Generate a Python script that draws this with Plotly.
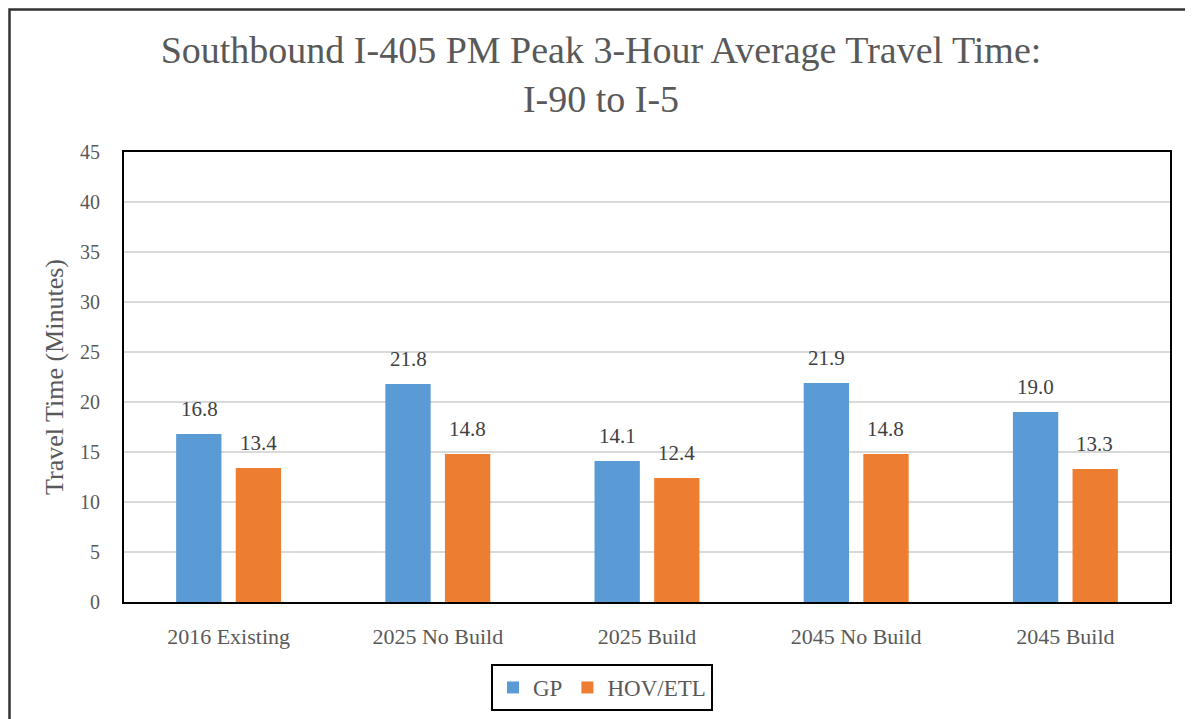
import plotly.graph_objects as go

categories = ["2016 Existing", "2025 No Build", "2025 Build", "2045 No Build", "2045 Build"]
gp_values = [16.8, 21.8, 14.1, 21.9, 19.0]
hov_values = [13.4, 14.8, 12.4, 14.8, 13.3]
series_names = ["GP", "HOV/ETL"]
series_colors = ["#5B9BD5", "#ED7D31"]
y_ticks = [0, 5, 10, 15, 20, 25, 30, 35, 40, 45]

FONT = "Liberation Serif"
GREY = "#595959"

# page body has an 8px margin; figure is sized/placed to compensate
OFF = 8
W, H = 1193 - OFF, 719 - OFF
L, T, R, B = 124 - OFF, 152 - OFF, 23, 117
PW, PH = W - L - R, H - T - B

fig = go.Figure()
for name, vals, col in zip(series_names, [gp_values, hov_values], series_colors):
    fig.add_trace(go.Bar(
        x=categories, y=vals, name=name, marker_color=col,
        marker_line_width=0,
    ))

# value labels above bars
for vals, shift in [(gp_values, -29.5), (hov_values, 29.5)]:
    for c, v in zip(categories, vals):
        fig.add_annotation(
            x=c, y=v, xref="x", yref="y", text=f"{v:.1f}", showarrow=False,
            xshift=shift, yshift=25, yanchor="middle",
            font=dict(family=FONT, size=21, color="#404040"),
        )

fig.update_layout(
    width=W, height=H,
    margin=dict(l=L, r=R, t=T, b=B, pad=0, autoexpand=False),
    paper_bgcolor="white", plot_bgcolor="white",
    barmode="group", bargap=0.43, bargroupgap=0.24,
    font=dict(family=FONT, color=GREY),
    title=dict(
        text="Southbound I-405 PM Peak 3-Hour Average Travel Time:<br>I-90 to I-5",
        x=(601 - OFF) / W, xref="container", xanchor="center",
        y=1 - (76 - OFF - 13) / H, yref="container", yanchor="middle",
        font=dict(family=FONT, size=38, color=GREY),
    ),
    showlegend=True,
    legend=dict(
        orientation="h", x=(602 - 124) / PW, xanchor="center",
        y=(602 - 664) / PH, yanchor="top",
        bordercolor="black", borderwidth=2,
        font=dict(family=FONT, size=23, color=GREY),
        traceorder="normal", itemsizing="constant",
    ),
    xaxis=dict(
        automargin=False,
        showline=True, linecolor="black", linewidth=2, mirror=True,
        ticks="", tickfont=dict(family=FONT, size=22, color=GREY),
        ticklabelstandoff=14,
    ),
    yaxis=dict(
        automargin=False,
        range=[0, 45], tickvals=y_ticks, showgrid=True, gridcolor="#d9d9d9", gridwidth=1.5,
        showline=True, linecolor="black", linewidth=2, mirror=True,
        ticks="", tickfont=dict(family=FONT, size=20, color=GREY),
        ticklabelstandoff=18, zeroline=False,
        title=dict(text="Travel Time (Minutes)", font=dict(family=FONT, size=26, color=GREY), standoff=9),
    ),
    shapes=[dict(
        type="rect", xref="paper", yref="paper",
        x0=(1.5 - L) / PW, x1=(W + 30 - L) / PW,
        y0=-(B + 30) / PH, y1=(PH + T - 1.5) / PH,
        line=dict(color="#333333", width=2.5), fillcolor="rgba(0,0,0,0)", layer="below",
    )],
)

fig.write_html("out.html")
